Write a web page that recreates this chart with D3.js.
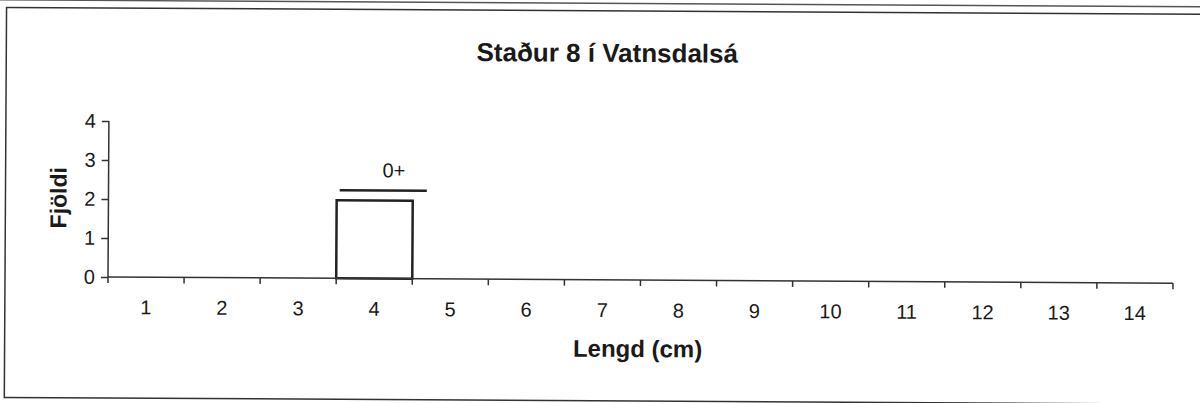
<!DOCTYPE html>
<html>
<head>
<meta charset="utf-8">
<script src="https://cdn.jsdelivr.net/npm/d3@7"></script>
<style>
  html, body { margin: 0; padding: 0; background: #fff; }
  svg { display: block; }
  text { font-family: "Liberation Sans", Arial, Helvetica, sans-serif; fill: #1a1a1a; }
</style>
</head>
<body>
<svg id="chart" width="1200" height="403"></svg>
<script>
// ---- data ----
const title = "Staður 8 í Vatnsdalsá";
const xLabel = "Lengd (cm)";
const yLabel = "Fjöldi";
const categories = ["1","2","3","4","5","6","7","8","9","10","11","12","13","14"];
const counts = [0, 0, 0, 2, 0, 0, 0, 0, 0, 0, 0, 0, 0, 0];
const yTicks = [0, 1, 2, 3, 4];
const groupLabels = ["0+"];
const groupStart = ["4"];
const groupEnd = ["4"];

// ---- layout ----
const mLeft = 108, mRight = 1173, mTop = 121, mBottom = 277;
const svg = d3.select("#chart");
const g = svg.append("g").attr("transform", `rotate(0.33, ${mLeft}, ${mBottom})`);

// frame (scanned page border)
g.append("rect")
  .attr("x", 5).attr("y", 8).attr("width", 1230).attr("height", 390)
  .attr("fill", "none").attr("stroke", "#333").attr("stroke-width", 1.5);
g.append("line")
  .attr("x1", -10).attr("x2", 1230).attr("y1", 0.5).attr("y2", 0.5)
  .attr("stroke", "#555").attr("stroke-width", 1.5);

const x = d3.scaleBand().domain(categories).range([mLeft, mRight]).padding(0);
const y = d3.scaleLinear().domain([0, 4]).range([mBottom, mTop]);

// title
g.append("text").attr("x", 606).attr("y", 59)
  .attr("text-anchor", "middle").style("font-size", "26px").style("font-weight", "bold")
  .text(title);

// bars
g.selectAll("rect.bar").data(categories.map((c, i) => ({c, v: counts[i]})).filter(d => d.v > 0))
  .join("rect").attr("class", "bar")
  .attr("x", d => x(d.c)).attr("width", x.bandwidth())
  .attr("y", d => y(d.v)).attr("height", d => y(0) - y(d.v))
  .attr("fill", "#fff").attr("stroke", "#222").attr("stroke-width", 2.5);

// y axis
const yAxis = g.append("g").attr("transform", `translate(${mLeft},0)`)
  .call(d3.axisLeft(y).tickValues(yTicks).tickFormat(d3.format("d")).tickSize(7).tickPadding(6));
yAxis.select(".domain").attr("d", `M-0,${y(4)}V${y(0)}`);
yAxis.selectAll("path, line").attr("stroke", "#333").attr("stroke-width", 1.5);
yAxis.selectAll("text").style("font-size", "20px").attr("fill", "#1a1a1a")
  .style("font-family", "Liberation Sans, Arial, sans-serif");

// x axis labels
const xAxis = g.append("g").attr("transform", `translate(0,${mBottom})`)
  .call(d3.axisBottom(x).tickSize(0).tickPadding(23));
xAxis.select(".domain").attr("d", `M${mLeft},0H${mRight}`).attr("stroke", "#333").attr("stroke-width", 1.5);
xAxis.selectAll("text").style("font-size", "20px").attr("fill", "#1a1a1a")
  .style("font-family", "Liberation Sans, Arial, sans-serif");
// boundary ticks
const bounds = categories.map(c => x(c)).concat([x(categories[categories.length - 1]) + x.bandwidth()]);
xAxis.selectAll("line.bt").data(bounds).join("line").attr("class", "bt")
  .attr("x1", d => d).attr("x2", d => d).attr("y1", 0).attr("y2", 6)
  .attr("stroke", "#333").attr("stroke-width", 1.5);

// group annotation (0+)
groupLabels.forEach((lab, i) => {
  const x0 = x(groupStart[i]), x1 = x(groupEnd[i]) + x.bandwidth();
  g.append("line").attr("x1", x0 + 3).attr("x2", x1 + 14)
    .attr("y1", y(2.26)).attr("y2", y(2.26))
    .attr("stroke", "#222").attr("stroke-width", 2.5);
  g.append("text").attr("x", (x0 + x1) / 2 + 19).attr("y", y(2.6))
    .attr("text-anchor", "middle").style("font-size", "20px").text(lab);
});

// axis titles
g.append("text").attr("x", 638).attr("y", 354)
  .attr("text-anchor", "middle").style("font-size", "24px").style("font-weight", "bold")
  .text(xLabel);
g.append("text").attr("transform", "translate(66,198) rotate(-90)")
  .attr("text-anchor", "middle").style("font-size", "23px").style("font-weight", "bold")
  .text(yLabel);
</script>
</body>
</html>
